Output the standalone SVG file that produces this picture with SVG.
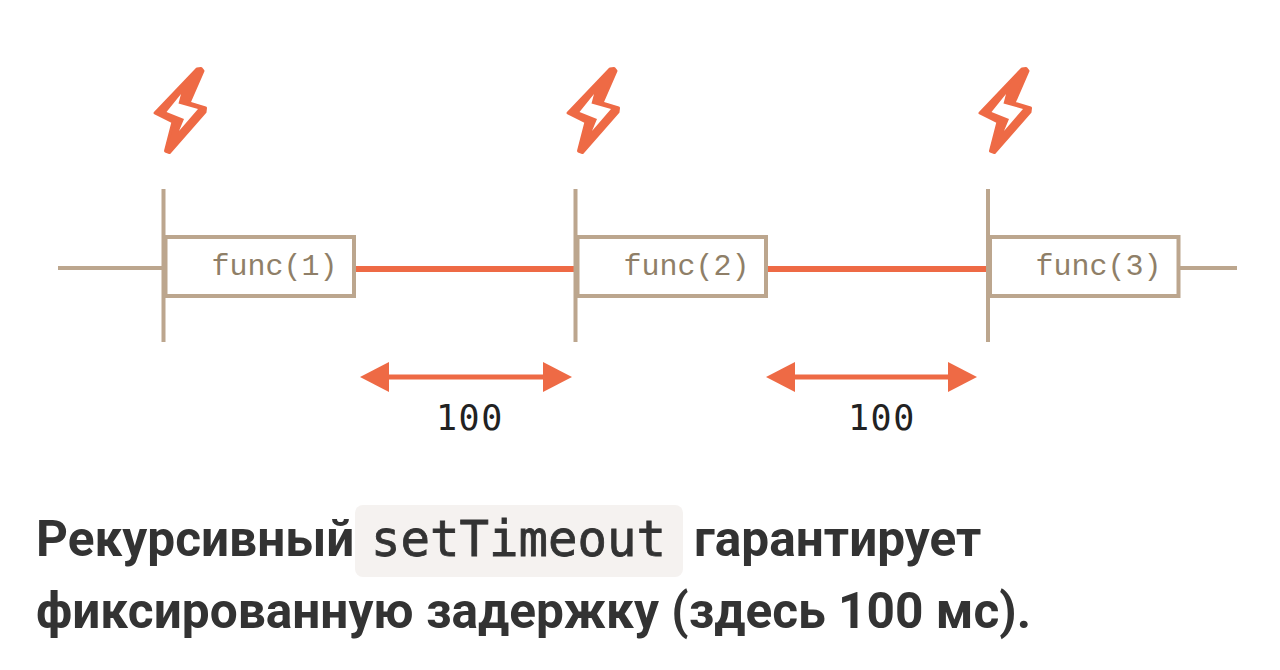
<svg xmlns="http://www.w3.org/2000/svg" width="1280" height="670" viewBox="0 0 1280 670">
<style>
.t{stroke:#bca68e;stroke-width:4;fill:none}
.o{stroke:#ee6a45;fill:none}
.box{fill:#fff;stroke:#bca68e;stroke-width:4}
.fn{font-family:"Liberation Mono",monospace;font-size:30px;fill:#8f7f68}
.num{font-family:"DejaVu Sans Mono",monospace;font-size:35px;letter-spacing:1.500px;fill:#222}
.h{font-family:Roboto,"Liberation Sans",sans-serif;font-weight:700;font-size:49.600px;fill:#333}
.c{font-family:"DejaVu Sans Mono",monospace;font-size:49px;fill:#333;stroke:#333;stroke-width:.8px}
.bolt{fill:#ee6a45;stroke:#ee6a45;stroke-width:3;stroke-linejoin:round}
.hole{fill:#fff}
</style>
<defs>
<g id="bolt">
<path class="bolt" d="M197 69L201 68.500L203 71L189 103L205.500 108L205 112L169.500 152.500L165.500 151L173 122L155 113Z"/>
<path class="hole" d="M181 94L166.500 112L184 119L179 131L198 109L178.500 103.500Z"/>
</g>
<marker id="ar" viewBox="0 0 29 30" refX="0" refY="15" markerWidth="29" markerHeight="30" markerUnits="userSpaceOnUse" orient="auto-start-reverse"><path d="M0 0L29 15L0 30Z" fill="#ee6a45"/></marker>
</defs>
<g id="connectors">
<path class="t" d="M58 268H164M1180 268H1237"/>
<path class="o" stroke-width="6" d="M355 269H576M767 269H988"/>
<path class="o" stroke-width="5" d="M389 377H543" marker-start="url(#ar)" marker-end="url(#ar)"/>
<path class="o" stroke-width="5" d="M795 377H948" marker-start="url(#ar)" marker-end="url(#ar)"/>
<path class="t" d="M163.500 189V342M575.500 189V342M988 189V342"/>
</g>
<g id="bolt1"><use href="#bolt"/></g>
<g id="bolt2"><use href="#bolt" x="413"/></g>
<g id="bolt3"><use href="#bolt" x="825"/></g>
<g id="node1"><rect class="box" x="165.500" y="237" width="188.500" height="59"/><text class="fn" x="211.500" y="275">func(1)</text></g>
<g id="node2"><rect class="box" x="577.500" y="237" width="188.500" height="59"/><text class="fn" x="623.500" y="275">func(2)</text></g>
<g id="node3"><rect class="box" x="990" y="237" width="188.500" height="59"/><text class="fn" x="1035.500" y="275">func(3)</text></g>
<g id="label1"><text class="num" x="436" y="430">100</text></g>
<g id="label2"><text class="num" x="848" y="430">100</text></g>
<g id="caption">
<rect x="355" y="505" width="328" height="72" rx="8" fill="#f5f2f0"/>
<text class="h" x="36" y="556">Рекурсивный</text>
<text class="c" x="371" y="556">setTimeout</text>
<text class="h" x="694" y="556">гарантирует</text>
<text class="h" x="36" y="628">фиксированную задержку (здесь 100 мс).</text>
</g>
</svg>
